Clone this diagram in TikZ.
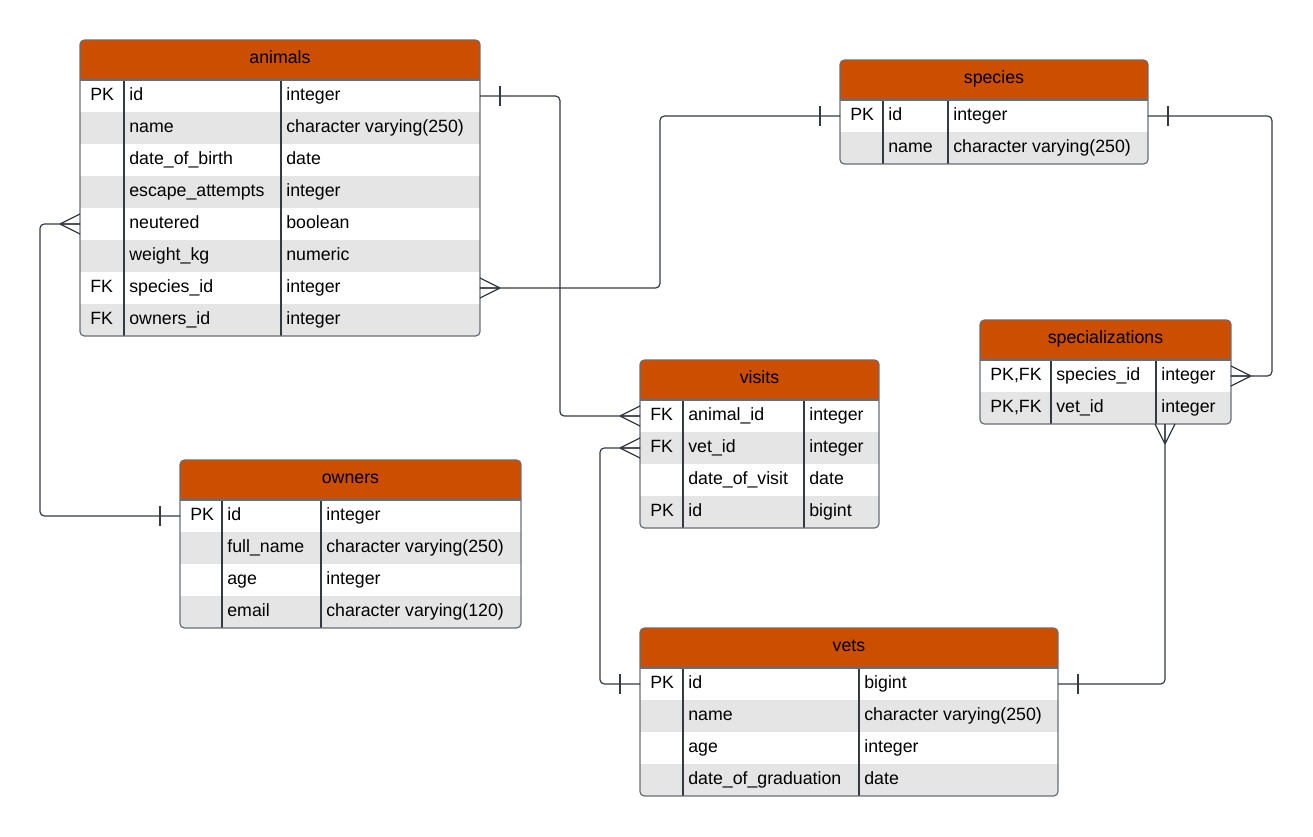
\documentclass[tikz,border=0pt]{standalone}
\usepackage{fontspec}
\setmainfont{Liberation Sans}
\usetikzlibrary{calc}
\definecolor{headorange}{RGB}{204,78,0}
\definecolor{rowgray}{RGB}{229,229,229}
\definecolor{framegray}{RGB}{105,110,118}
\definecolor{linegray}{RGB}{52,58,66}

\begin{document}
\begin{tikzpicture}[x=0.02cm, y=-0.02cm, font=\fontsize{10.1}{12}\selectfont]
      % Styles
      \tikzset{head/.style={anchor=north west, minimum height=0.8cm, inner sep=0, outer sep=0, fill=headorange, text height=7.2pt, text depth=2.7pt}}
      \tikzset{row/.style={anchor=north west, minimum height=0.64cm, inner sep=0, outer sep=0}}
      \tikzset{cell/.style={anchor=base west, inner sep=0}}
      \tikzset{frame/.style={draw=framegray, line width=0.7pt, rounded corners=2.5pt}}
      \tikzset{colline/.style={draw=linegray, line width=0.6pt}}
      \tikzset{rel/.style={draw=linegray, line width=0.7pt, rounded corners=2.5pt}}
      \tikzset{crowfoot/.pic={\draw[rel] (-20,0) -- (0,-10) (-20,0) -- (0,10) (-20,0) -- (0,0);}}
      \tikzset{onebar/.pic={\draw[rel] (-20,-10) -- (-20,10);}}

      \useasboundingbox (0,0) rectangle (1313,836);

      % --- animals ---
      \begin{scope}
        \clip[rounded corners=2.5pt] (80,40) rectangle (480,336);
        \node[head, minimum width=8cm] (animals) at (80,40) {animals};
        \foreach \k/\f/\t [count=\i] in {PK/id/integer, {}/name/character varying(250), {}/date\_of\_birth/date,
            {}/escape\_attempts/integer, {}/neutered/boolean, {}/weight\_kg/numeric, FK/species\_id/integer, FK/owners\_id/integer}{
          \pgfmathtruncatemacro\shade{mod(\i,2)*100}
          \node[row, minimum width=8cm, fill=white!\shade!rowgray] (animals-r\i) at (80,{48+32*\i}) {};
          \node[cell] (animals-k\i) at ($(animals-r\i.west)+(10,4)$) {\k};
          \node[cell] (animals-f\i) at ($(animals-r\i.west)+(49,4)$) {\f};
          \node[cell] (animals-t\i) at ($(animals-r\i.west)+(206,4)$) {\t};
        }
      \end{scope}
      \draw[colline] (124,80) -- (124,336) (281,80) -- (281,336);
      \draw[framegray, line width=0.6pt] (80,80) -- (480,80);
      \draw[frame] (80,40) rectangle (480,336);

      % --- species ---
      \begin{scope}
        \clip[rounded corners=2.5pt] (840,60) rectangle (1148,164);
        \node[head, minimum width=6.16cm] (species) at (840,60) {species};
        \foreach \k/\f/\t [count=\i] in {PK/id/integer, {}/name/character varying(250)}{
          \pgfmathtruncatemacro\shade{mod(\i,2)*100}
          \node[row, minimum width=6.16cm, fill=white!\shade!rowgray] (species-r\i) at (840,{68+32*\i}) {};
          \node[cell] (species-k\i) at ($(species-r\i.west)+(10,4)$) {\k};
          \node[cell] (species-f\i) at ($(species-r\i.west)+(48,4)$) {\f};
          \node[cell] (species-t\i) at ($(species-r\i.west)+(113,4)$) {\t};
        }
      \end{scope}
      \draw[colline] (883,100) -- (883,164) (948,100) -- (948,164);
      \draw[framegray, line width=0.6pt] (840,100) -- (1148,100);
      \draw[frame] (840,60) rectangle (1148,164);

      % --- specializations ---
      \begin{scope}
        \clip[rounded corners=2.5pt] (980,320) rectangle (1231,424);
        \node[head, minimum width=5.02cm] (specializations) at (980,320) {specializations};
        \foreach \k/\f/\t [count=\i] in {{PK,FK}/species\_id/integer, {PK,FK}/vet\_id/integer}{
          \pgfmathtruncatemacro\shade{mod(\i,2)*100}
          \node[row, minimum width=5.02cm, fill=white!\shade!rowgray] (specializations-r\i) at (980,{328+32*\i}) {};
          \node[cell] (specializations-k\i) at ($(specializations-r\i.west)+(10,4)$) {\k};
          \node[cell] (specializations-f\i) at ($(specializations-r\i.west)+(76,4)$) {\f};
          \node[cell] (specializations-t\i) at ($(specializations-r\i.west)+(181,4)$) {\t};
        }
      \end{scope}
      \draw[colline] (1051,360) -- (1051,424) (1156,360) -- (1156,424);
      \draw[framegray, line width=0.6pt] (980,360) -- (1231,360);
      \draw[frame] (980,320) rectangle (1231,424);

      % --- visits ---
      \begin{scope}
        \clip[rounded corners=2.5pt] (640,360) rectangle (879,528);
        \node[head, minimum width=4.78cm] (visits) at (640,360) {visits};
        \foreach \k/\f/\t [count=\i] in {FK/animal\_id/integer, FK/vet\_id/integer, {}/date\_of\_visit/date, PK/id/bigint}{
          \pgfmathtruncatemacro\shade{mod(\i,2)*100}
          \node[row, minimum width=4.78cm, fill=white!\shade!rowgray] (visits-r\i) at (640,{368+32*\i}) {};
          \node[cell] (visits-k\i) at ($(visits-r\i.west)+(10,4)$) {\k};
          \node[cell] (visits-f\i) at ($(visits-r\i.west)+(48,4)$) {\f};
          \node[cell] (visits-t\i) at ($(visits-r\i.west)+(169,4)$) {\t};
        }
      \end{scope}
      \draw[colline] (683,400) -- (683,528) (804,400) -- (804,528);
      \draw[framegray, line width=0.6pt] (640,400) -- (879,400);
      \draw[frame] (640,360) rectangle (879,528);

      % --- owners ---
      \begin{scope}
        \clip[rounded corners=2.5pt] (180,460) rectangle (521,628);
        \node[head, minimum width=6.82cm] (owners) at (180,460) {owners};
        \foreach \k/\f/\t [count=\i] in {PK/id/integer, {}/full\_name/character varying(250), {}/age/integer, {}/email/character varying(120)}{
          \pgfmathtruncatemacro\shade{mod(\i,2)*100}
          \node[row, minimum width=6.82cm, fill=white!\shade!rowgray] (owners-r\i) at (180,{468+32*\i}) {};
          \node[cell] (owners-k\i) at ($(owners-r\i.west)+(10,4)$) {\k};
          \node[cell] (owners-f\i) at ($(owners-r\i.west)+(47,4)$) {\f};
          \node[cell] (owners-t\i) at ($(owners-r\i.west)+(146,4)$) {\t};
        }
      \end{scope}
      \draw[colline] (222,500) -- (222,628) (321,500) -- (321,628);
      \draw[framegray, line width=0.6pt] (180,500) -- (521,500);
      \draw[frame] (180,460) rectangle (521,628);

      % --- vets ---
      \begin{scope}
        \clip[rounded corners=2.5pt] (640,628) rectangle (1058,796);
        \node[head, minimum width=8.36cm] (vets) at (640,628) {vets};
        \foreach \k/\f/\t [count=\i] in {PK/id/bigint, {}/name/character varying(250), {}/age/integer, {}/date\_of\_graduation/date}{
          \pgfmathtruncatemacro\shade{mod(\i,2)*100}
          \node[row, minimum width=8.36cm, fill=white!\shade!rowgray] (vets-r\i) at (640,{636+32*\i}) {};
          \node[cell] (vets-k\i) at ($(vets-r\i.west)+(10,4)$) {\k};
          \node[cell] (vets-f\i) at ($(vets-r\i.west)+(48,4)$) {\f};
          \node[cell] (vets-t\i) at ($(vets-r\i.west)+(224,4)$) {\t};
        }
      \end{scope}
      \draw[colline] (683,668) -- (683,796) (859,668) -- (859,796);
      \draw[framegray, line width=0.6pt] (640,668) -- (1058,668);
      \draw[frame] (640,628) rectangle (1058,796);

      % --- The Relationships ---
      % animals.id -> visits.animal_id
      \draw[rel] (animals-r1.east) -- ($(animals-r1.east)+(80,0)$) |- (visits-r1.west);
      \pic[rotate=180] at (animals-r1.east) {onebar};
      \pic at (visits-r1.west) {crowfoot};

      % species.id -> animals.species_id
      \draw[rel] (species-r1.west) -- ($(species-r1.west)+(-180,0)$) |- (animals-r7.east);
      \pic at (species-r1.west) {onebar};
      \pic[rotate=180] at (animals-r7.east) {crowfoot};

      % species.id -> specializations.species_id
      \draw[rel] (species-r1.east) -- ($(species-r1.east)+(124,0)$) |- (specializations-r1.east);
      \pic[rotate=180] at (species-r1.east) {onebar};
      \pic[rotate=180] at (specializations-r1.east) {crowfoot};

      % vets.id -> specializations.vet_id
      \coordinate (spec-foot) at ($(specializations-r2.south west)+(185,0)$);
      \draw[rel] (spec-foot) |- (vets-r1.east);
      \pic[rotate=90] at (spec-foot) {crowfoot};
      \pic[rotate=180] at (vets-r1.east) {onebar};

      % vets.id -> visits.vet_id
      \draw[rel] (vets-r1.west) -- ($(vets-r1.west)+(-40,0)$) |- (visits-r2.west);
      \pic at (vets-r1.west) {onebar};
      \pic at (visits-r2.west) {crowfoot};

      % owners.id -> animals.owners_id
      \draw[rel] (animals-r5.west) -- ($(animals-r5.west)+(-40,0)$) |- (owners-r1.west);
      \pic at (animals-r5.west) {crowfoot};
      \pic at (owners-r1.west) {onebar};

\end{tikzpicture}
\end{document}
